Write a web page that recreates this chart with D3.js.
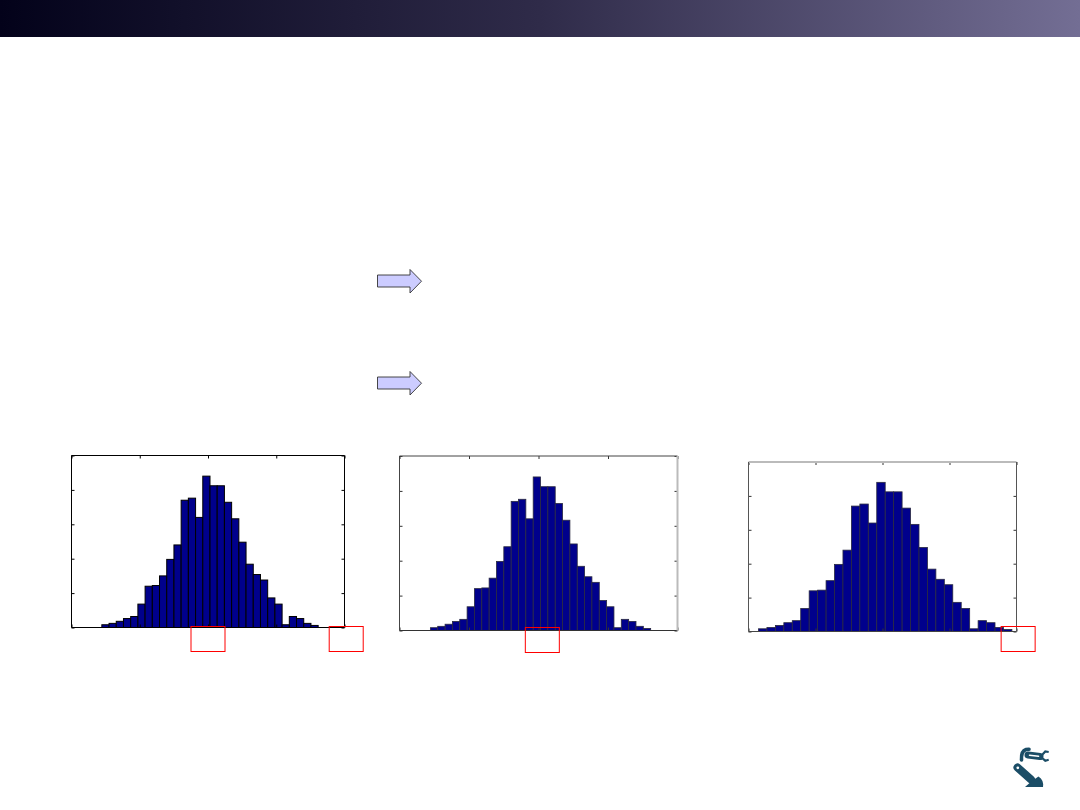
<!DOCTYPE html>
<html>
<head>
<meta charset="utf-8">
<script src="https://cdn.jsdelivr.net/npm/d3@7"></script>
<style>
  html, body { margin: 0; padding: 0; background: #ffffff; }
  svg { display: block; }
</style>
</head>
<body>
<svg id="slide" width="1080" height="810"></svg>
<script>
// ---------------- DATA ----------------
// histogram bin counts (30 bins), same sample shown in all three panels
const counts = [4, 6, 9, 13, 16, 34, 60, 61, 75, 99, 120, 185, 188, 160, 220,
                206, 206, 182, 158, 124, 92, 77, 69, 43, 34, 4, 16, 13, 6, 3];
const binStart = -3.111;           // left edge of the first bin
const binWidth = 0.2113;           // width of each bin
const yTicks = [0, 50, 100, 150, 200, 250];
const yDomain = [0, 250];
const xDomainA = [-4, 4];          // panels 1 and 2
const xDomainB = [-3.361, 3.343];  // panel 3 (tighter axis)
const xTickCount = 5;              // unlabelled ticks along x
const boxesA = [0, 4.05];          // highlighted x positions, panel 1
const boxesB = [0.11];             // panel 2
const boxesC = [3.384];            // panel 3

// ---------------- SLIDE ----------------
const svg = d3.select("#slide");
const defs = svg.append("defs");
const grad = defs.append("linearGradient").attr("id", "hdr")
  .attr("x1", "0%").attr("x2", "100%").attr("y1", "0%").attr("y2", "0%");
grad.append("stop").attr("offset", "0%").attr("stop-color", "#03021a");
grad.append("stop").attr("offset", "50%").attr("stop-color", "#2f2b49");
grad.append("stop").attr("offset", "100%").attr("stop-color", "#736e94");
svg.append("rect").attr("x", 0).attr("y", 0).attr("width", 1080).attr("height", 37)
  .attr("fill", "url(#hdr)");

// arrows
function arrow(y0) {
  const pts = [[377.5, y0 + 5.5], [410, y0 + 5.5], [410, y0], [421.5, y0 + 11.7],
               [410, y0 + 23.5], [410, y0 + 17.5], [377.5, y0 + 17.5]];
  svg.append("polygon").attr("points", pts.map(p => p.join(",")).join(" "))
    .attr("fill", "#ccccff").attr("stroke", "#333333").attr("stroke-width", 0.9);
}
arrow(269.5);
arrow(371.5);

// ---------------- HISTOGRAMS ----------------
function histogram(cfg) {
  const g = svg.append("g");
  const x = d3.scaleLinear().domain(cfg.xDomain).range([cfg.left, cfg.right]);
  const y = d3.scaleLinear().domain(yDomain).range([cfg.bottom, cfg.top]);

  g.selectAll("rect.bar").data(counts).enter().append("rect")
    .attr("class", "bar")
    .attr("x", (d, i) => x(binStart + i * binWidth))
    .attr("width", (d, i) => x(binStart + (i + 1) * binWidth) - x(binStart + i * binWidth))
    .attr("y", d => y(d))
    .attr("height", d => y(0) - y(d))
    .attr("fill", "#00008c")
    .attr("stroke", cfg.barStroke)
    .attr("stroke-width", cfg.barStrokeW);

  const xt = d3.range(xTickCount).map(i => cfg.xDomain[0] + i * (cfg.xDomain[1] - cfg.xDomain[0]) / (xTickCount - 1));
  const tl = 3;
  // axes with inward ticks, no labels
  g.append("g").attr("transform", `translate(0,${cfg.bottom})`)
    .call(d3.axisTop(x).tickValues(xt).tickSize(tl).tickFormat(""))
    .call(a => a.select(".domain").remove())
    .selectAll("line").attr("stroke", cfg.tickColor);
  g.append("g").attr("transform", `translate(0,${cfg.top})`)
    .call(d3.axisBottom(x).tickValues(xt).tickSize(tl).tickFormat(""))
    .call(a => a.select(".domain").remove())
    .selectAll("line").attr("stroke", cfg.tickColor);
  g.append("g").attr("transform", `translate(${cfg.left},0)`)
    .call(d3.axisRight(y).tickValues(yTicks).tickSize(tl).tickFormat(""))
    .call(a => a.select(".domain").remove())
    .selectAll("line").attr("stroke", cfg.tickColor);
  g.append("g").attr("transform", `translate(${cfg.right},0)`)
    .call(d3.axisLeft(y).tickValues(yTicks).tickSize(tl).tickFormat(""))
    .call(a => a.select(".domain").remove())
    .selectAll("line").attr("stroke", cfg.tickColor);

  // frame
  const side = (x1, y1, x2, y2, c, w) => g.append("line")
    .attr("x1", x1).attr("y1", y1).attr("x2", x2).attr("y2", y2)
    .attr("stroke", c).attr("stroke-width", w);
  side(cfg.left, cfg.top, cfg.right, cfg.top, cfg.frame.top[0], cfg.frame.top[1]);
  side(cfg.left, cfg.bottom, cfg.right, cfg.bottom, cfg.frame.bottom[0], cfg.frame.bottom[1]);
  side(cfg.left, cfg.top, cfg.left, cfg.bottom, cfg.frame.left[0], cfg.frame.left[1]);
  side(cfg.right, cfg.top, cfg.right, cfg.bottom, cfg.frame.right[0], cfg.frame.right[1]);

  // red highlight boxes under chosen x positions
  cfg.boxes.forEach(v => {
    g.append("rect").attr("x", x(v) - 17).attr("y", cfg.boxY)
      .attr("width", 34).attr("height", 25)
      .attr("fill", "none").attr("stroke", "#ff0000").attr("stroke-width", 1);
  });
}

histogram({
  left: 71.5, right: 344.5, top: 455.5, bottom: 627.5, xDomain: xDomainA,
  barStroke: "#000000", barStrokeW: 1, tickColor: "#000",
  frame: { top: ["#000", 1], bottom: ["#000", 1], left: ["#000", 1], right: ["#000", 1] },
  boxes: boxesA, boxY: 626.5
});
histogram({
  left: 399.5, right: 677.5, top: 456, bottom: 630.5, xDomain: xDomainA,
  barStroke: "#2a2a40", barStrokeW: 0.8, tickColor: "#333",
  frame: { top: ["#444", 1], bottom: ["#333", 1.2], left: ["#444", 1], right: ["#bbbbbb", 2] },
  boxes: boxesB, boxY: 627.5
});
histogram({
  left: 748.5, right: 1016.5, top: 462, bottom: 631.5, xDomain: xDomainB,
  barStroke: "#2a2a40", barStrokeW: 0.8, tickColor: "#333",
  frame: { top: ["#bbbbbb", 2], bottom: ["#444", 1.2], left: ["#555", 1], right: ["#555", 1] },
  boxes: boxesC, boxY: 626.5
});

// ---------------- LOGO ----------------
const logoColor = "#1b4d66";
const logo = svg.append("g").attr("fill", logoColor).attr("stroke", "none");
// shoulder hook
logo.append("path").attr("d", "M1021.5,760 Q1021,751 1026,749.5 L1029,749.2")
  .attr("fill", "none").attr("stroke", logoColor).attr("stroke-width", 3.6)
  .attr("stroke-linecap", "round");
// upper arm
logo.append("line").attr("x1", 1028).attr("y1", 755).attr("x2", 1040).attr("y2", 756.5)
  .attr("stroke", logoColor).attr("stroke-width", 7).attr("stroke-linecap", "round");
logo.append("line").attr("x1", 1029.5).attr("y1", 755.2).attr("x2", 1038.5).attr("y2", 756.3)
  .attr("stroke", "#ffffff").attr("stroke-width", 1.6).attr("stroke-linecap", "round");
// gripper
logo.append("path").attr("d", "M1042,755 L1045.3,751.5 L1048.7,752")
  .attr("fill", "none").attr("stroke", logoColor).attr("stroke-width", 2.2);
logo.append("path").attr("d", "M1042,758 L1045.3,760.7 L1048.7,759.8")
  .attr("fill", "none").attr("stroke", logoColor).attr("stroke-width", 2.2);
// lower arm
logo.append("line").attr("x1", 1017.5).attr("y1", 767.5).attr("x2", 1031).attr("y2", 779.5)
  .attr("stroke", logoColor).attr("stroke-width", 8).attr("stroke-linecap", "round");
logo.append("circle").attr("cx", 1017.8).attr("cy", 767.8).attr("r", 1.4).attr("fill", "#fff");
// base
logo.append("path").attr("d", "M1025,787 Q1031,781 1038.5,776.5 Q1044,780 1043,787 Z");
</script>
</body>
</html>
